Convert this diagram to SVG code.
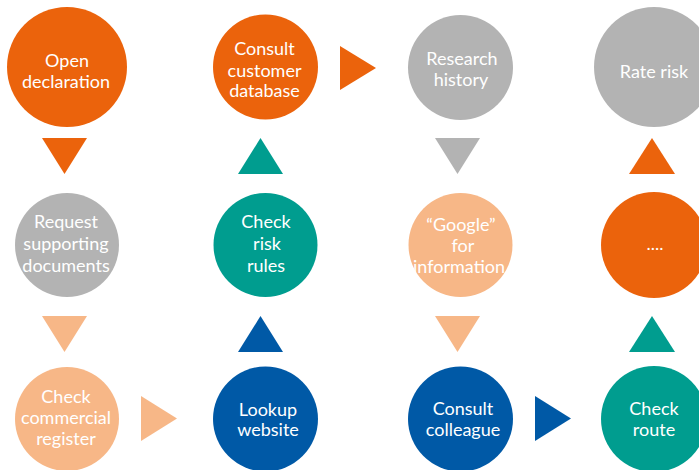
<svg xmlns="http://www.w3.org/2000/svg" width="699" height="470" viewBox="0 0 699 470">
<style>
text{font-family:Lato,"Open Sans","Liberation Sans",sans-serif;font-size:18px;fill:#fff;text-anchor:middle}
.o{fill:#EB630C}.g{fill:#B3B3B3}.t{fill:#009D8F}.p{fill:#F7B787}.b{fill:#0059A6}
</style>
<rect width="699" height="470" fill="#fff"/>
<g id="connectors">
<polygon class="o" points="340,46 376,68 340,90"/>
<polygon class="o" points="42,138 87,138 64.5,174"/>
<polygon class="t" points="238,174 283,174 260.5,138"/>
<polygon class="g" points="435,138 480,138 457.5,174"/>
<polygon class="o" points="629,174 675,174 652,138"/>
<polygon class="p" points="42,316 87,316 64.5,352"/>
<polygon class="b" points="238,352 283,352 260.5,316"/>
<polygon class="p" points="435,316 480,316 457.5,352"/>
<polygon class="t" points="629,352 675,352 652,316"/>
<polygon class="p" points="141,396 177,418.5 141,441"/>
<polygon class="b" points="535,396 571,418.5 535,441"/>
</g>
<g id="open-declaration"><circle class="o" cx="67" cy="67" r="60"/><text x="67" y="67">Open</text><text x="66" y="88">declaration</text></g>
<g id="consult-customer-database"><circle class="o" cx="265.5" cy="67" r="52.5"/><text x="264.5" y="55">Consult</text><text x="264.5" y="76.5">customer</text><text x="264.5" y="97">database</text></g>
<g id="research-history"><circle class="g" cx="460.5" cy="67.5" r="52.5"/><text x="462" y="65">Research</text><text x="461" y="85.5">history</text></g>
<g id="rate-risk"><circle class="g" cx="654" cy="67" r="60"/><text x="654" y="78">Rate risk</text></g>
<g id="request-supporting-documents"><circle class="g" cx="67" cy="245" r="52"/><text x="66" y="228">Request</text><text x="66" y="250">supporting</text><text x="66" y="272">documents</text></g>
<g id="check-risk-rules"><circle class="t" cx="265.5" cy="245" r="52"/><text x="266" y="228">Check</text><text x="267" y="250">risk</text><text x="266" y="272">rules</text></g>
<g id="google-for-information"><circle class="p" cx="460.5" cy="245" r="52"/><text x="461" y="231">“Google”</text><text x="463" y="252">for</text><text x="459" y="273">information</text></g>
<g id="dots"><circle class="o" cx="654" cy="245" r="53"/><text x="655" y="250">....</text></g>
<g id="check-commercial-register"><circle class="p" cx="67" cy="419" r="52"/><text x="66" y="403">Check</text><text x="66" y="424">commercial</text><text x="66" y="445">register</text></g>
<g id="lookup-website"><circle class="b" cx="265.5" cy="419" r="52.5"/><text x="268" y="415.5">Lookup</text><text x="268" y="436">website</text></g>
<g id="consult-colleague"><circle class="b" cx="460.5" cy="419" r="52.5"/><text x="463" y="415">Consult</text><text x="463" y="436">colleague</text></g>
<g id="check-route"><circle class="t" cx="654" cy="419" r="53"/><text x="654" y="415">Check</text><text x="654" y="436">route</text></g>
</svg>
